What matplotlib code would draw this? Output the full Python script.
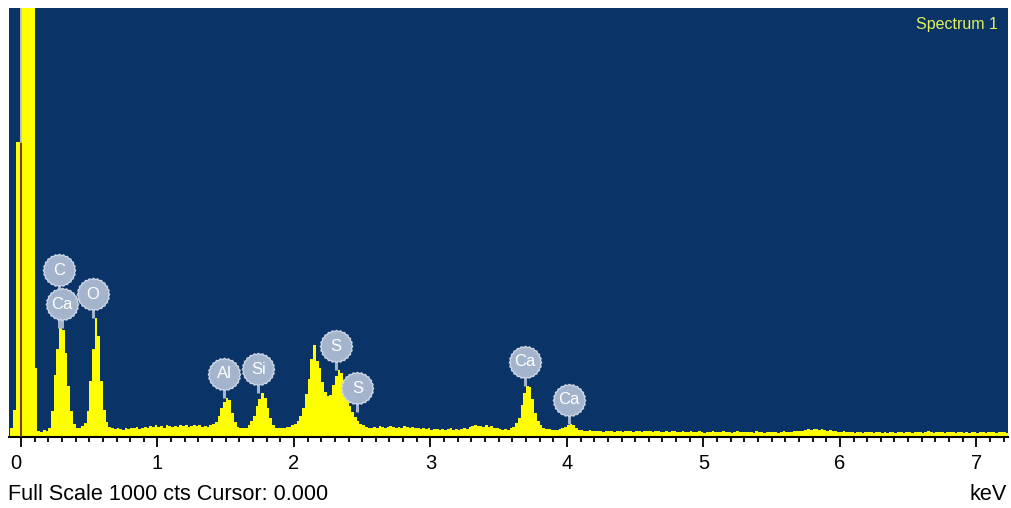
import numpy as np
import matplotlib
matplotlib.use("Agg")
import matplotlib.pyplot as plt
from matplotlib.path import Path

plt.rcParams['font.family'] = ['Liberation Sans', 'DejaVu Sans']

# ---- spectrum data -------------------------------------------------------
CHANNEL_START = -0.08   # keV, lower edge of first channel
CHANNEL_WIDTH = 0.02    # keV per channel
FULL_SCALE = 1000       # counts at top of the display
CURSOR = 0.000          # keV

counts = [
    # -0.08 .. 0.10
    20, 63, 687, 687, 2000, 2000, 2000, 2000, 2000, 160,
    # 0.12 .. 0.30
    14, 12, 16, 15, 22, 60, 145, 205, 254, 250,
    # 0.32 .. 0.50
    195, 120, 60, 30, 20, 22, 25, 32, 60, 130,
    # 0.52 .. 0.70
    205, 277, 235, 130, 62, 34, 24, 20, 18, 20,
    # 0.72 .. 0.90
    19, 17, 20, 18, 21, 20, 23, 19, 22, 24,
    # 0.92 .. 1.10
    21, 25, 23, 27, 24, 26, 22, 28, 25, 23,
    # 1.12 .. 1.30
    26, 24, 28, 25, 27, 23, 26, 29, 25, 27,
    # 1.32 .. 1.50
    24, 26, 24, 27, 30, 35, 48, 68, 82, 91,
    # 1.52 .. 1.70
    86, 55, 34, 24, 20, 20, 22, 28, 38, 50,
    # 1.72 .. 1.90
    72, 88, 102, 92, 68, 44, 28, 22, 20, 20,
    # 1.92 .. 2.10
    22, 24, 24, 27, 30, 38, 50, 68, 100, 135,
    # 2.12 .. 2.30
    182, 214, 178, 162, 128, 104, 95, 98, 122, 142,
    # 2.32 .. 2.50
    156, 150, 120, 90, 72, 58, 47, 38, 30, 27,
    # 2.52 .. 2.70
    24, 20, 22, 24, 21, 25, 23, 22, 24, 26,
    # 2.72 .. 2.90
    23, 21, 24, 22, 25, 23, 21, 24, 22, 20,
    # 2.92 .. 3.10
    19, 21, 18, 20, 17, 19, 18, 16, 19, 17,
    # 3.12 .. 3.30
    18, 20, 17, 19, 16, 18, 21, 19, 24, 26,
    # 3.32 .. 3.50
    27, 25, 26, 24, 27, 23, 25, 22, 20, 18,
    # 3.52 .. 3.70
    17, 19, 16, 20, 24, 32, 45, 75, 102, 120,
    # 3.72 .. 3.90
    116, 88, 55, 38, 27, 22, 19, 18, 17, 16,
    # 3.92 .. 4.10
    17, 18, 20, 24, 29, 31, 27, 20, 17, 16,
    # 4.12 .. 4.30
    15, 14, 16, 14, 13, 15, 14, 12, 14, 13,
    # 4.32 .. 4.50
    13, 12, 14, 13, 12, 14, 15, 13, 12, 13,
    # 4.52 .. 4.70
    14, 12, 13, 15, 14, 12, 13, 14, 12, 11,
    # 4.72 .. 4.90
    13, 12, 14, 13, 11, 12, 14, 12, 11, 13,
    # 4.92 .. 5.10
    12, 11, 13, 12, 10, 12, 11, 13, 12, 11,
    # 5.12 .. 5.30
    12, 13, 11, 12, 10, 11, 13, 12, 11, 12,
    # 5.32 .. 5.50
    11, 12, 10, 13, 11, 12, 10, 11, 12, 11,
    # 5.52 .. 5.70
    12, 10, 11, 13, 12, 11, 12, 13, 14, 13,
    # 5.72 .. 5.90
    14, 16, 18, 17, 19, 18, 17, 19, 16, 15,
    # 5.92 .. 6.10
    17, 14, 13, 12, 11, 13, 12, 11, 12, 10,
    # 6.12 .. 6.30
    11, 12, 10, 11, 12, 11, 10, 12, 11, 10,
    # 6.32 .. 6.50
    11, 10, 12, 11, 10, 11, 12, 10, 11, 12,
    # 6.52 .. 6.70
    10, 11, 12, 11, 10, 12, 13, 11, 10, 11,
    # 6.72 .. 6.90
    12, 11, 10, 11, 12, 11, 10, 12, 11, 10,
    # 6.92 .. 7.10
    11, 10, 12, 11, 10, 11, 12, 10, 11, 12,
    # 7.12 .. 7.22
    11, 10, 11, 12, 11, 10,
]

# element line markers
line_labels = ["C", "Ca", "O", "Al", "Si", "S", "S", "Ca", "Ca"]
line_energies = [0.277, 0.302, 0.525, 1.487, 1.740, 2.307, 2.464, 3.690, 4.013]
line_stack = [1, 0, 0, 0, 0, 0, 0, 0, 0]

x_ticks = [0, 1, 2, 3, 4, 5, 6, 7]

# ---- figure --------------------------------------------------------------
W, H = 1011, 508
DPI = 100
fig = plt.figure(figsize=(W / DPI, H / DPI), dpi=DPI)
fig.patch.set_facecolor('white')

AX_L, AX_R, AX_T, AX_B = 9, 1008, 8, 437
ax = fig.add_axes([AX_L / W, (H - AX_B) / H, (AX_R - AX_L) / W, (AX_B - AX_T) / H])
ax.set_facecolor('#0a3468')

counts = np.asarray(counts, dtype=float)
edges = CHANNEL_START + CHANNEL_WIDTH * np.arange(len(counts) + 1)

ax.stairs(counts, edges, fill=True, color='#ffff00', linewidth=0, zorder=2)

ax.set_xlim(-0.088, 7.232)
ax.set_ylim(0, FULL_SCALE)

# cursor marker (inverted colour over the trace)
cur_idx = np.searchsorted(edges, CURSOR) - 1
cur_level = counts[cur_idx]
ax.plot([CURSOR, CURSOR], [0, cur_level], color='#6a2a18', lw=1.3, zorder=3)
ax.plot([CURSOR, CURSOR], [cur_level, FULL_SCALE], color='#c9c7b0', lw=1.3, zorder=3)

# axis styling
for side in ('top', 'left', 'right'):
    ax.spines[side].set_visible(False)
ax.spines['bottom'].set_color('black')
ax.spines['bottom'].set_linewidth(1.5)
ax.set_yticks([])
ax.set_xticks(x_ticks)
ax.set_xticks(np.arange(0, 7.25, 0.1), minor=True)
ax.set_xticklabels([str(t) for t in x_ticks])
ax.tick_params(axis='x', which='major', direction='out', length=7.5, width=1.3,
               color='black', labelsize=14.5, pad=5, labelcolor='black')
ax.tick_params(axis='x', which='minor', direction='out', length=3.8, width=1.3,
               color='black')
for lbl in ax.get_xticklabels():
    if lbl.get_text() == '0':
        lbl.set_horizontalalignment('right')
        lbl.set_x(0.05)

# scalloped bubble marker
n = 48
theta = np.linspace(0, 2 * np.pi, n + 1)
rad = np.where(np.arange(n + 1) % 2 == 0, 1.0, 0.93)
verts = np.column_stack([rad * np.cos(theta), rad * np.sin(theta)])
bubble = Path(verts, closed=True)

fig.canvas.draw()
to_disp = ax.transData
to_data = ax.transData.inverted()

BUBBLE_FC = '#a4b4cc'
BUBBLE_EC = '#ccd5e3'
for lab, e, s in zip(line_labels, line_energies, line_stack):
    mask = (edges[:-1] < e + 0.03) & (edges[1:] > e - 0.03)
    peak = counts[mask].max()
    px, py = to_disp.transform((e, peak))
    _, cy = to_data.transform((px, py + 24 + 34 * s))
    ax.plot([e, e], [peak, cy], color=BUBBLE_FC, lw=2.2, zorder=4,
            solid_capstyle='butt')
    ax.scatter([e], [cy], s=540, marker=bubble, facecolor=BUBBLE_FC,
               edgecolor=BUBBLE_EC, linewidth=1.0, zorder=5)
    ax.text(e, cy, lab, color='white', fontsize=12, ha='center', va='center',
            zorder=6)

# annotations
fig.text(998 / W, 1 - 24 / H, 'Spectrum 1', color='#e2f25a', fontsize=11.5,
         ha='right', va='center')
fig.text(8 / W, 1 - 495 / H,
         f'Full Scale {FULL_SCALE} cts Cursor: {CURSOR:.3f}',
         color='black', fontsize=15.6, ha='left', va='center')
fig.text(1007 / W, 1 - 495 / H, 'keV', color='black', fontsize=15.6,
         ha='right', va='center')

fig.savefig('out.png', dpi=DPI, facecolor='white')
